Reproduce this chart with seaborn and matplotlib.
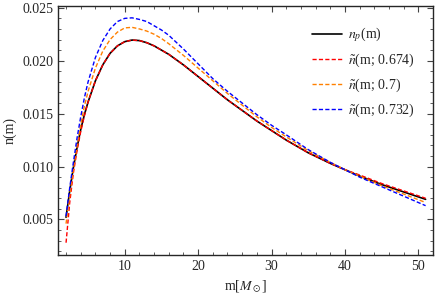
"""
Mass function n(m) vs reconstructed n~(m; sigma)
"""

import matplotlib
matplotlib.use("Agg")
import matplotlib.pyplot as plt
import seaborn as sns
import numpy as np
import pandas as pd
from matplotlib.ticker import MultipleLocator

# masses [M_sun]
m_vals = [2, 2.5, 3, 3.5, 4, 4.5, 5, 6, 7, 8, 9, 10, 11, 12, 13, 14, 15, 16, 18,
          20, 22, 24, 26, 28, 30, 32, 35, 38, 40, 42, 45, 48, 51]

n_p = [0.0052, 0.0077, 0.0099, 0.0118, 0.0135, 0.0149, 0.0161, 0.0181, 0.0196,
       0.0207, 0.0214, 0.0218, 0.02195, 0.0219, 0.0217, 0.0214, 0.0210, 0.0206,
       0.0196, 0.0185, 0.0174, 0.0163, 0.0153, 0.0143, 0.0134, 0.0125, 0.0113,
       0.0103, 0.0097, 0.0091, 0.0083, 0.0076, 0.0069]

n_674 = [0.0028, 0.0066, 0.0094, 0.0115, 0.0133, 0.0148, 0.0161, 0.0181, 0.0196,
         0.0207, 0.0214, 0.0218, 0.02195, 0.0219, 0.0217, 0.0214, 0.0210, 0.0206,
         0.0196, 0.0185, 0.0174, 0.0163, 0.0153, 0.0143, 0.0134, 0.0125, 0.0113,
         0.0103, 0.0097, 0.0092, 0.0084, 0.0077, 0.0070]

n_700 = [0.0046, 0.0073, 0.0098, 0.0120, 0.0140, 0.0157, 0.0171, 0.0193, 0.0209,
         0.0220, 0.0227, 0.0231, 0.02315, 0.0230, 0.0228, 0.0225, 0.0221, 0.0216,
         0.0205, 0.0193, 0.0181, 0.0169, 0.0158, 0.0147, 0.0137, 0.0128, 0.0115,
         0.0104, 0.0097, 0.0091, 0.0082, 0.0074, 0.0066]

n_732 = [0.0053, 0.0080, 0.0104, 0.0127, 0.0147, 0.0165, 0.0180, 0.0203, 0.0219,
         0.0230, 0.0237, 0.0240, 0.02405, 0.0239, 0.0237, 0.0233, 0.0229, 0.0224,
         0.0211, 0.0197, 0.0183, 0.0171, 0.0160, 0.0149, 0.0139, 0.0130, 0.0116,
         0.0104, 0.0097, 0.0090, 0.0081, 0.0072, 0.0063]

labels = [r"$n_p$(m)", r"$\tilde{n}$(m; 0.674)", r"$\tilde{n}$(m; 0.7)",
          r"$\tilde{n}$(m; 0.732)"]
colors = ["black", "#ff0000", "#ff8000", "#0000ff"]

sns.set_style("ticks")
plt.rcParams["font.family"] = ["Liberation Serif", "DejaVu Serif"]
plt.rcParams["mathtext.fontset"] = "stix"

fig = plt.figure(figsize=(4.36, 2.98), dpi=100)
ax = fig.add_axes([0.133, 0.144, 0.86, 0.837])

series = [n_p, n_674, n_700, n_732]
for i, (ys, lab, c) in enumerate(zip(series, labels, colors)):
    df = pd.DataFrame({"m": m_vals, "n": ys})
    if i == 0:
        sns.lineplot(data=df, x="m", y="n", ax=ax, color=c, lw=1.2, label=lab)
    else:
        sns.lineplot(data=df, x="m", y="n", ax=ax, color=c, lw=1.0,
                     label=lab, linestyle=(0, (3, 1.6)))

ax.set_xlim(0.9, 52)
ax.set_ylim(0.00163, 0.0252)
ax.xaxis.set_major_locator(MultipleLocator(10))
ax.xaxis.set_minor_locator(MultipleLocator(2))
ax.yaxis.set_major_locator(MultipleLocator(0.005))
ax.yaxis.set_minor_locator(MultipleLocator(0.001))
ax.tick_params(which="both", direction="in", top=True, right=True,
               labelsize=10, color="#444444")
ax.tick_params(which="major", length=4, width=0.8)
ax.tick_params(which="minor", length=2, width=0.6)
for s in ax.spines.values():
    s.set_linewidth(1.0)

ax.set_xlabel(r"m[$M_\odot$]", fontsize=10)
ax.set_ylabel("n(m)", fontsize=10)

ax.legend(loc="upper right", frameon=False, fontsize=10, labelspacing=0.55,
          handlelength=2.2, handletextpad=0.4, bbox_to_anchor=(0.985, 0.97))

fig.savefig("out.png", dpi=100)
